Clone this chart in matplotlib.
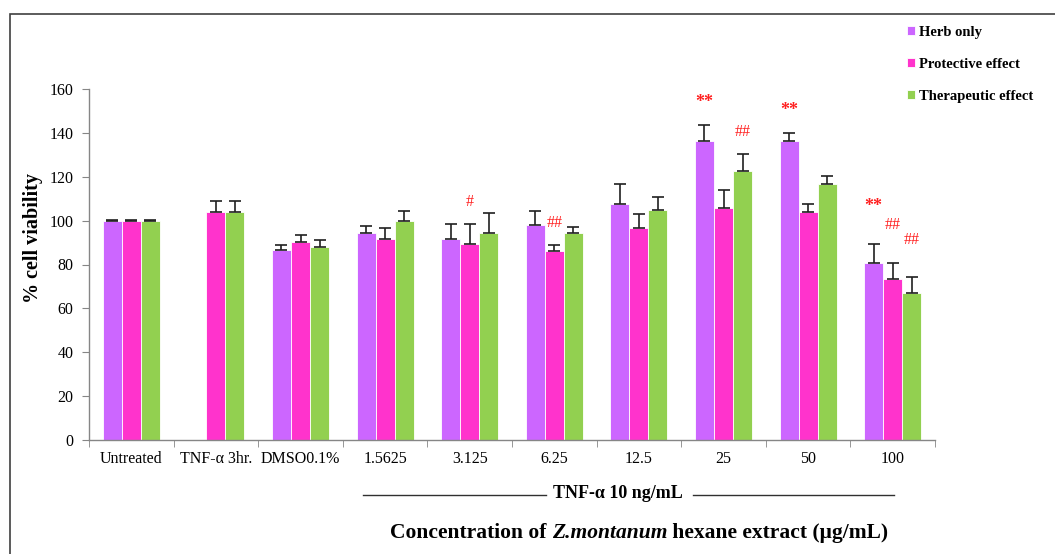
import numpy as np
import matplotlib

matplotlib.use("Agg")
from matplotlib import pyplot as plt
from matplotlib.patches import Rectangle
from matplotlib.lines import Line2D

plt.rcParams["font.family"] = ["Liberation Serif", "DejaVu Serif"]

categories = ["Untreated", "TNF-\u03b1 3hr.", "DMSO0.1%", "1.5625", "3.125",
              "6.25", "12.5", "25", "50", "100"]
series_names = ["Herb only", "Protective effect", "Therapeutic effect"]

herb = [100, np.nan, 86.6, 94.2, 91.6, 98.1, 107.4, 136.1, 136.1, 80.5]
herb_err = [0.3, np.nan, 2.3, 3.3, 7.0, 6.4, 9.4, 7.6, 4.0, 9.0]
protective = [100, 104, 90.2, 91.6, 89.2, 86.1, 96.8, 105.9, 103.8, 73.4]
protective_err = [0.3, 5.0, 3.2, 4.9, 9.4, 2.8, 6.3, 7.9, 3.9, 7.4]
therapeutic = [100, 104, 88.2, 99.8, 94.2, 94.2, 104.7, 122.6, 116.5, 66.9]
therapeutic_err = [0.3, 5.0, 2.9, 4.7, 9.4, 2.9, 6.1, 7.9, 3.8, 7.4]

# significance marks: (group, series, symbol)
sig_marks = [(4, 1, "#"), (5, 1, "##"), (7, 0, "**"), (7, 2, "##"),
             (8, 0, "**"), (9, 0, "**"), (9, 1, "##"), (9, 2, "##")]

colors = ["#CC66FF", "#FF33CC", "#92D050"]
W, H = 1055, 554

fig = plt.figure(figsize=(W / 100, H / 100), dpi=100)
fig.patches.append(Rectangle((10 / W, -0.1), 1.2, 1.1 - 14 / H,
                             transform=fig.transFigure, fill=False,
                             edgecolor="#404040", lw=1.2))

ax = fig.add_axes([89 / W, (H - 440) / H, (935 - 89) / W, (440 - 89) / H])
x = np.arange(len(categories)) + 0.5
bw = 0.225
values = [herb, protective, therapeutic]
errors = [herb_err, protective_err, therapeutic_err]
handles = []
for k in range(3):
    xs = x + (k - 1) * bw
    b = ax.bar(xs, values[k], bw, color=colors[k], edgecolor="white",
               linewidth=0.6, label=series_names[k], zorder=2)
    handles.append(b)
    v = np.array(values[k], dtype=float)
    e = np.array(errors[k], dtype=float)
    ax.errorbar(xs, v, yerr=[np.zeros_like(e), e], fmt="none", ecolor="#202020",
                elinewidth=1.2, capsize=4, capthick=1.2, zorder=3)

for g, s, sym in sig_marks:
    top = values[s][g] + errors[s][g]
    lift = 17 if g == 9 else 10
    ax.text(x[g] + (s - 1) * bw, top + lift, sym, color="#FF2020",
            ha="center", va="center",
            fontsize=13 if sym == "**" else 11.5,
            fontweight="bold" if sym == "**" else "normal")

ax.set_xlim(0, 10)
ax.set_ylim(0, 160)
ax.set_yticks(np.arange(0, 161, 20))
ax.set_xticks(x)
ax.set_xticklabels(categories)
ax.set_xticks(np.arange(0, 11), minor=True)
ax.tick_params(axis="x", which="major", length=0, pad=8, labelsize=11.5)
ax.tick_params(axis="x", which="minor", length=5, color="#868686", direction="out")
ax.tick_params(axis="y", length=5, color="#868686", labelsize=11.5, pad=6)
for sp in ["top", "right"]:
    ax.spines[sp].set_visible(False)
for sp in ["left", "bottom"]:
    ax.spines[sp].set_color("#868686")
    ax.spines[sp].set_linewidth(1.0)

fig.text(33 / W, 1 - 238 / H, "% cell viability", rotation=90, ha="center",
         va="center", fontsize=14.5, fontweight="bold")

fig.legend(handles=handles, labels=series_names, loc="upper left",
           bbox_to_anchor=(907 / W, 1 - 26 / H), frameon=False,
           prop={"size": 10.5, "weight": "bold"}, handlelength=0.55,
           handleheight=0.55, handletextpad=0.3, labelspacing=1.3,
           borderpad=0, borderaxespad=0)

# TNF-alpha bracket line under the concentration groups
for x0, x1 in [(363, 546), (693, 894)]:
    fig.add_artist(Line2D([x0 / W, x1 / W], [1 - 495 / H] * 2,
                          transform=fig.transFigure, color="#303030", lw=1.0))
fig.text(618 / W, 1 - 494 / H, "TNF-\u03b1 10 ng/mL", ha="center", va="center",
         fontsize=13, fontweight="bold")

# x-axis title built from pieces so the species name can be italic
pieces = [("Concentration of ", "normal"), ("Z.montanum", "italic"),
          (" hexane extract (\u03bcg/mL)", "normal")]
renderer = fig.canvas.get_renderer()
texts = []
for s, style in pieces:
    t = fig.text(0, 1 - 533 / H, s, ha="left", va="center", fontsize=15.5,
                 fontweight="bold", fontstyle=style)
    texts.append(t)
widths = [t.get_window_extent(renderer).width for t in texts]
cur = 639 - sum(widths) / 2
for t, w in zip(texts, widths):
    t.set_x(cur / W)
    cur += w

fig.savefig("out.png", dpi=100)
